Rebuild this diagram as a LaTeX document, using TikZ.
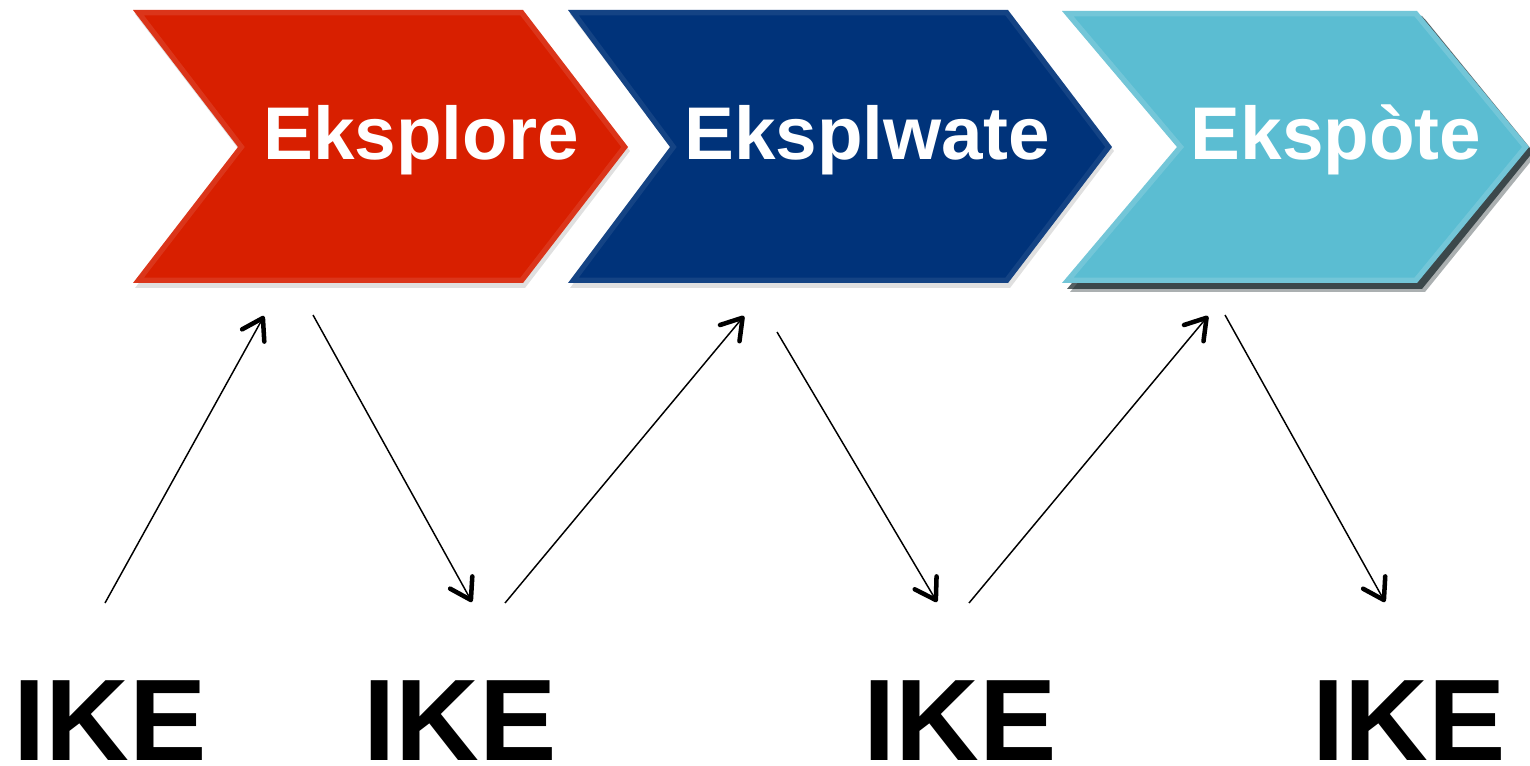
\documentclass[tikz,border=0pt]{standalone}
\usepackage{fontspec}
\setmainfont{Liberation Sans}
\usetikzlibrary{arrows.meta}

\definecolor{stagered}{RGB}{216,31,0}
\definecolor{stageblue}{RGB}{0,51,122}
\definecolor{stagecyan}{RGB}{91,189,210}

\tikzset{every picture/.style={line width=0.75pt}}
\tikzset{
  stagelabel/.style={anchor=base, inner sep=0pt, text depth=0pt, text=white, font=\fontsize{56}{60}\selectfont\bfseries},
  ikelabel/.style={anchor=base, inner sep=0pt, text depth=0pt, text=black, font=\fontsize{87}{90}\selectfont\bfseries},
  flow/.style={line width=1.1pt, -{Straight Barb[length=15pt,width=19pt,line width=3.4pt,round]}},
  bevel/.style={line width=8pt, line join=miter},
}

\begin{document}
\begin{tikzpicture}[x=0.75pt,y=0.75pt,yscale=-1,xscale=1]
    \useasboundingbox (0,0) rectangle (1530,766);

    %Shape: Chevron shadows
    \fill [black, opacity=0.12] (135,14) -- (525,14) -- (630,151) -- (525,288) -- (135,288) -- (240,151) -- cycle ;
    \fill [black, opacity=0.12] (570,14) -- (1010,14) -- (1114,151) -- (1010,288) -- (570,288) -- (674,151) -- cycle ;
    \fill [black!85!stagecyan, opacity=0.35] (1070,19) -- (1425,19) -- (1536,155) -- (1425,292) -- (1070,292) -- (1185,155) -- cycle ;
    \fill [black!85!stagecyan, opacity=0.7] (1067,16) -- (1422,16) -- (1533,152) -- (1422,289) -- (1067,289) -- (1182,152) -- cycle ;

    %Shape: Chevron [red]
    \fill [stagered] (133,10) -- (523,10) -- (628,147) -- (523,283) -- (133,283) -- (238,147) -- cycle ;
    \begin{scope}
      \clip (133,10) -- (523,10) -- (628,147) -- (523,283) -- (133,283) -- (238,147) -- cycle ;
      \draw [bevel, draw=white, draw opacity=0.1] (133,10) -- (523,10) -- (628,147) -- (523,283) -- (133,283) -- (238,147) -- cycle ;
    \end{scope}
    %Shape: Chevron [blue]
    \fill [stageblue] (568,10) -- (1008,10) -- (1112,147) -- (1008,283) -- (568,283) -- (670,147) -- cycle ;
    \begin{scope}
      \clip (568,10) -- (1008,10) -- (1112,147) -- (1008,283) -- (568,283) -- (670,147) -- cycle ;
      \draw [bevel, draw=white, draw opacity=0.08] (568,10) -- (1008,10) -- (1112,147) -- (1008,283) -- (568,283) -- (670,147) -- cycle ;
    \end{scope}
    %Shape: Chevron [cyan]
    \fill [stagecyan] (1062,11) -- (1417,11) -- (1529,147) -- (1417,283) -- (1062,283) -- (1177,147) -- cycle ;
    \begin{scope}
      \clip (1062,11) -- (1417,11) -- (1529,147) -- (1417,283) -- (1062,283) -- (1177,147) -- cycle ;
      \draw [bevel, draw=white, draw opacity=0.15] (1062,11) -- (1417,11) -- (1529,147) -- (1417,283) -- (1062,283) -- (1177,147) -- cycle ;
    \end{scope}

    % Text Node
    \draw (421,160) node [stagelabel] (eksplore) {Eksplore};
    % Text Node
    \draw (867,160) node [stagelabel] (eksplwate) {Eksplwate};
    % Text Node
    \draw (1336,160) node [stagelabel] (ekspote) {Ekspòte};

    % Text Node
    \draw (110,760) node [ikelabel] (ike1) {IKE};
    % Text Node
    \draw (460,760) node [ikelabel] (ike2) {IKE};
    % Text Node
    \draw (960,760) node [ikelabel] (ike3) {IKE};
    % Text Node
    \draw (1409,760) node [ikelabel] (ike4) {IKE};

    %Arrow ends
    \coordinate (up1a) at (105,603);   \coordinate (up1b) at (264,316);
    \coordinate (dn1a) at (313,315);   \coordinate (dn1b) at (472,602);
    \coordinate (up2a) at (505,603);   \coordinate (up2b) at (744,316);
    \coordinate (dn2a) at (777,332);   \coordinate (dn2b) at (937,602);
    \coordinate (up3a) at (969,603);   \coordinate (up3b) at (1208,316);
    \coordinate (dn3a) at (1225,315);  \coordinate (dn3b) at (1385,602);

    %Straight Lines
    \draw [flow] (up1a) -- (up1b) ;
    \draw [flow] (dn1a) -- (dn1b) ;
    \draw [flow] (up2a) -- (up2b) ;
    \draw [flow] (dn2a) -- (dn2b) ;
    \draw [flow] (up3a) -- (up3b) ;
    \draw [flow] (dn3a) -- (dn3b) ;

\end{tikzpicture}
\end{document}
